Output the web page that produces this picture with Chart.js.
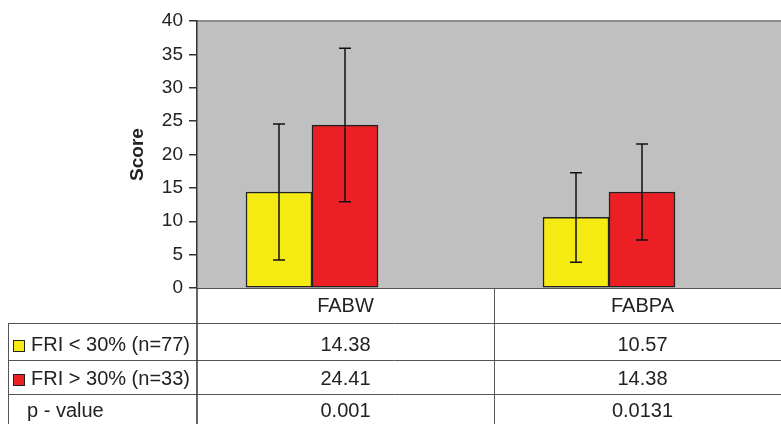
<!DOCTYPE html>
<html>
<head>
<meta charset="utf-8">
<script src="https://cdn.jsdelivr.net/npm/chart.js@4/dist/chart.umd.min.js"></script>
<style>
  body { margin: 0; background: #fff; }
  #wrap { width: 781px; height: 424px; position: relative; }
</style>
</head>
<body>
<div id="wrap"><canvas id="scoreChart"></canvas></div>
<script>
// データ
const categories = ['FABW', 'FABPA'];
const seriesNames = ['FRI < 30% (n=77)', 'FRI > 30% (n=33)'];
const lowFri = [14.38, 10.57];
const highFri = [24.41, 14.38];
const lowFriSd = [10.2, 6.7];
const highFriSd = [11.5, 7.2];
const pValues = ['0.001', '0.0131'];
const yTicks = [0, 5, 10, 15, 20, 25, 30, 35, 40];

const FONT = '"Liberation Sans", Arial, sans-serif';
const colors = ['#f5ea12', '#ec2024'];

// 灰色の背景
const plotBg = {
    id: 'plotBg',
    beforeDraw(chart) {
        const { ctx, chartArea: a } = chart;
        ctx.save();
        ctx.fillStyle = '#c0c0c0';
        ctx.fillRect(a.left, a.top, a.right - a.left, a.bottom - a.top);
        ctx.strokeStyle = '#8c8c8c';
        ctx.lineWidth = 2;
        ctx.beginPath();
        ctx.moveTo(a.left, a.top);
        ctx.lineTo(a.right, a.top);
        ctx.stroke();
        ctx.restore();
    }
};

// エラーバー
const errorBars = {
    id: 'errorBars',
    afterDatasetsDraw(chart) {
        const { ctx } = chart;
        const y = chart.scales.y;
        const sds = [lowFriSd, highFriSd];
        ctx.save();
        ctx.strokeStyle = '#111';
        ctx.lineWidth = 1.5;
        chart.data.datasets.forEach((ds, di) => {
            chart.getDatasetMeta(di).data.forEach((bar, i) => {
                const v = ds.data[i].y;
                const top = y.getPixelForValue(v + sds[di][i]);
                const bot = y.getPixelForValue(v - sds[di][i]);
                ctx.beginPath();
                ctx.moveTo(bar.x, top); ctx.lineTo(bar.x, bot);
                ctx.moveTo(bar.x - 6, top); ctx.lineTo(bar.x + 6, top);
                ctx.moveTo(bar.x - 6, bot); ctx.lineTo(bar.x + 6, bot);
                ctx.stroke();
            });
        });
        ctx.restore();
    }
};

// データテーブル
const dataTable = {
    id: 'dataTable',
    afterDraw(chart) {
        const { ctx, chartArea: a } = chart;
        const H = chart.height;
        const colW = 297;
        const mid = a.left + colW;
        const rows = [323, 360, 394];
        ctx.save();
        ctx.strokeStyle = '#555';
        ctx.lineWidth = 1;
        ctx.beginPath();
        ctx.moveTo(a.left, a.bottom + 0.5); ctx.lineTo(a.right, a.bottom + 0.5);
        rows.forEach(r => { ctx.moveTo(8, r + 0.5); ctx.lineTo(a.right, r + 0.5); });
        ctx.moveTo(8.5, rows[0]); ctx.lineTo(8.5, H);
        ctx.moveTo(mid + 0.5, a.bottom); ctx.lineTo(mid + 0.5, H);
        ctx.stroke();
        ctx.strokeStyle = '#333';
        ctx.lineWidth = 1.5;
        ctx.beginPath();
        ctx.moveTo(a.left, a.bottom); ctx.lineTo(a.left, H);
        ctx.stroke();

        ctx.fillStyle = '#222';
        ctx.font = '20px ' + FONT;
        ctx.textBaseline = 'middle';
        ctx.textAlign = 'center';
        const centers = [a.left + colW / 2, mid + colW / 2];
        const rowY = [345, 379, 411];
        categories.forEach((c, i) => {
            ctx.fillText(c, centers[i], 306);
            ctx.fillText(lowFri[i].toFixed(2), centers[i], rowY[0]);
            ctx.fillText(highFri[i].toFixed(2), centers[i], rowY[1]);
            ctx.fillText(pValues[i], centers[i], rowY[2]);
        });
        ctx.textAlign = 'left';
        seriesNames.forEach((n, i) => {
            ctx.fillStyle = colors[i];
            ctx.fillRect(13, rowY[i] - 5, 11, 11);
            ctx.strokeStyle = '#222';
            ctx.lineWidth = 1;
            ctx.strokeRect(13.5, rowY[i] - 4.5, 11, 11);
            ctx.fillStyle = '#222';
            ctx.fillText(n, 31, rowY[i]);
        });
        ctx.fillText('p - value', 27, rowY[2]);
        ctx.restore();
    }
};

document.addEventListener('DOMContentLoaded', function () {
    const ctx = document.getElementById('scoreChart');
    if (!ctx) {
        console.error("canvas 'scoreChart' が見つかりません");
        return;
    }
    new Chart(ctx, {
        type: 'bar',
        data: {
            datasets: [lowFri, highFri].map((vals, di) => ({
                label: seriesNames[di],
                data: vals.map((v, i) => ({ x: i, y: v })),
                backgroundColor: colors[di],
                borderColor: '#222',
                borderWidth: 1.5,
                borderSkipped: false,
                barThickness: 66
            }))
        },
        options: {
            responsive: true,
            maintainAspectRatio: false,
            animation: false,
            layout: { padding: { top: 21, bottom: 136, left: 0, right: 0 } },
            scales: {
                x: {
                    type: 'linear',
                    display: false,
                    offset: false,
                    min: -0.3872,
                    max: 1.5791
                },
                y: {
                    min: 0,
                    max: 40,
                    afterBuildTicks(scale) {
                        scale.ticks = yTicks.map(v => ({ value: v }));
                    },
                    afterFit(scale) { scale.width = 197; },
                    ticks: {
                        color: '#222',
                        padding: 6,
                        font: { family: FONT, size: 19 }
                    },
                    grid: {
                        drawOnChartArea: false,
                        drawTicks: true,
                        tickLength: 8,
                        color: '#333',
                        lineWidth: 1.5
                    },
                    border: { display: true, color: '#333', width: 1.5 },
                    title: {
                        display: true,
                        text: 'Score',
                        color: '#222',
                        font: { family: FONT, size: 19, weight: 'bold' },
                        padding: { top: 126, bottom: 0 }
                    }
                }
            },
            plugins: {
                legend: { display: false },
                tooltip: { enabled: false }
            }
        },
        plugins: [plotBg, errorBars, dataTable]
    });
});
</script>
</body>
</html>
